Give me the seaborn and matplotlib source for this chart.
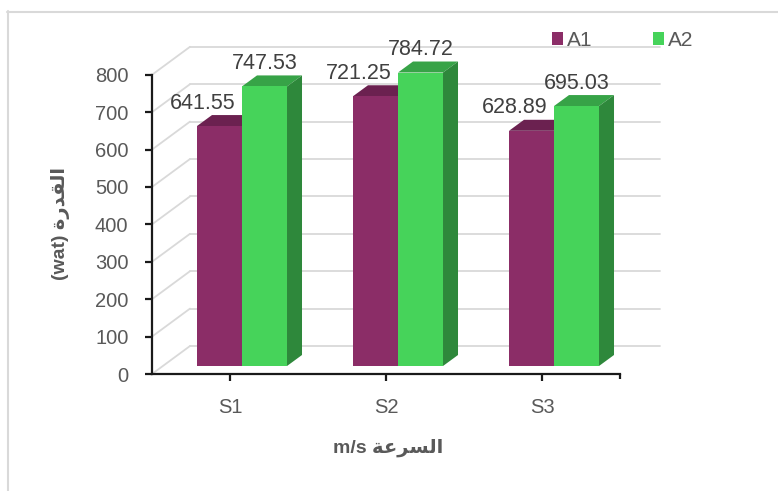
import matplotlib
matplotlib.use("Agg")
import matplotlib.pyplot as plt
from matplotlib.patches import Polygon, Patch
from matplotlib.lines import Line2D
import matplotlib.transforms as mtransforms
import numpy as np
import pandas as pd
import seaborn as sns

# ---- data -------------------------------------------------------------
speeds = ["S1", "S2", "S3"]
series = ["A1", "A2"]
a1_values = [641.55, 721.25, 628.89]
a2_values = [747.53, 784.72, 695.03]
y_ticks = [0, 100, 200, 300, 400, 500, 600, 700, 800]

# Arabic labels written in visual (shaped, left-to-right) order
y_title = "(wat) \uFE93\uFEAD\uFEAA\uFED8\uFEDF\uFE8D"     # القدرة (wat)
x_title = "m/s \uFE94\uFECB\uFEAE\uFEB4\uFEDF\uFE8D"       # السرعة m/s

# ---- style ------------------------------------------------------------
sns.set_theme(style="white")
plt.rcParams["font.family"] = ["Liberation Sans", "DejaVu Sans"]

W, H, DPI = 778, 491, 100
fig = plt.figure(figsize=(W / DPI, H / DPI), dpi=DPI)
fig.patch.set_facecolor("white")

PURPLE, PURPLE_DARK = "#8B2D67", "#6B2150"
GREEN, GREEN_TOP, GREEN_SIDE = "#46D35A", "#37A347", "#2E883B"
GRID = "#d9d9d9"
TXT = "#595959"


def px_axes(left, top_zero, width, height):
    """Axes placed in pixel units: left edge, y of the zero line from top."""
    return fig.add_axes([left / W, (H - top_zero) / H, width / W, height / H])


# front frame (axis lines, ticks, labels)
FRONT_L, FRONT_ZERO, FRONT_W, FRONT_H = 152, 374, 468, 299.2
ax = px_axes(FRONT_L, FRONT_ZERO, FRONT_W, FRONT_H)
# bars sit slightly behind the front frame
axb = px_axes(FRONT_L + 12, FRONT_ZERO - 8, FRONT_W, FRONT_H)
for a in (ax, axb):
    a.set_xlim(-0.5, 2.5)
    a.set_ylim(0, 800)
    a.patch.set_alpha(0)

# ---- back wall grid and floor diagonals --------------------------------
WALL_DX, WALL_DY = 38, 28
wall = mtransforms.ScaledTranslation(WALL_DX / DPI, WALL_DY / DPI, fig.dpi_scale_trans)
x_wall_end = -0.5 + (660 - WALL_DX - FRONT_L) / (FRONT_W / 3)
for v in y_ticks:
    ax.plot([-0.5, x_wall_end], [v, v], color=GRID, lw=1.3,
            transform=ax.transData + wall, clip_on=False, zorder=0)
    p0 = ax.transData.transform((-0.5, v))
    p1 = (ax.transData + wall).transform((-0.5, v))
    f0 = fig.transFigure.inverted().transform(p0)
    f1 = fig.transFigure.inverted().transform(p1)
    fig.add_artist(Line2D([f0[0], f1[0]], [f0[1], f1[1]], color=GRID, lw=1.3, zorder=0))

# ---- bars ---------------------------------------------------------------
df = pd.DataFrame({
    "speed": speeds * 2,
    "power": a1_values + a2_values,
    "series": [series[0]] * 3 + [series[1]] * 3,
})
sns.barplot(data=df, x="speed", y="power", hue="series", hue_order=series,
            palette=[PURPLE, GREEN], saturation=1, width=0.577, ax=axb,
            legend=False, errorbar=None, zorder=3, linewidth=0)
axb.set_xlim(-0.5, 2.5)
axb.set_ylim(0, 800)
axb.axis("off")

# pixel -> data conversion for the bar depth
q0 = axb.transData.transform((0, 0))
q1 = axb.transData.transform((1, 100))
DX = 15 / (q1[0] - q0[0])
DY = 11 * 100 / (q1[1] - q0[1])

face_colors = [(PURPLE_DARK, PURPLE_DARK), (GREEN_TOP, GREEN_SIDE)]
label_shift = [-17, 0]
for k, cont in enumerate(axb.containers):
    top_c, side_c = face_colors[k]
    for bar in cont.patches:
        x, w, h = bar.get_x(), bar.get_width(), bar.get_height()
        top = Polygon([(x, h), (x + w, h), (x + w + DX, h + DY), (x + DX, h + DY)],
                      closed=True, facecolor=top_c, edgecolor="none", zorder=2,
                      clip_on=False)
        side = Polygon([(x + w, 0), (x + w + DX, DY), (x + w + DX, h + DY), (x + w, h)],
                       closed=True, facecolor=side_c, edgecolor="none", zorder=2,
                       clip_on=False)
        axb.add_patch(top)
        axb.add_patch(side)
        bar.set_clip_on(False)
        axb.annotate(f"{h:.2f}", xy=(x + w / 2, h), xytext=(label_shift[k], 23),
                     textcoords="offset pixels", ha="center", va="center",
                     fontsize=15.5, color="#404040", annotation_clip=False)

# ---- front axis frame ------------------------------------------------
ax.set_xticks(range(len(speeds)))
ax.set_xticklabels(speeds)
ax.set_yticks(y_ticks)
for s in ("top", "right"):
    ax.spines[s].set_visible(False)
for s in ("left", "bottom"):
    ax.spines[s].set_color("#1a1a1a")
    ax.spines[s].set_linewidth(1.6)
ax.tick_params(axis="both", which="both", direction="out", length=5, width=1.6,
               color="#1a1a1a", labelcolor=TXT, labelsize=14.5)
ax.tick_params(axis="y", pad=12, left=True)
ax.tick_params(axis="x", pad=12, bottom=True)
ax.set_xlabel("")
ax.set_ylabel("")
ax.grid(False)

# closing tick at the right end of the category axis
ax.plot([2.5, 2.5], [0, -5 * 800 / FRONT_H], color="#1a1a1a", lw=1.6,
        clip_on=False, solid_capstyle="butt")

# ---- titles ------------------------------------------------------------
fig.text(60 / W, 1 - 224 / H, y_title, rotation=90, ha="center", va="center",
         fontsize=14, fontweight="bold", color=TXT)
fig.text(388 / W, 1 - 448 / H, x_title, ha="center", va="center",
         fontsize=14, fontweight="bold", color=TXT)

# ---- legend --------------------------------------------------------------
handles = [Patch(facecolor=PURPLE, edgecolor="none"), Patch(facecolor=GREEN, edgecolor="none")]
fig.legend(handles, series, loc="center left", bbox_to_anchor=(552 / W, 1 - 40.5 / H),
           ncol=2, frameon=False, fontsize=15, labelcolor=TXT,
           handlelength=0.53, handleheight=0.53, handletextpad=0.18,
           columnspacing=2.9, borderpad=0, borderaxespad=0)

# ---- chart border --------------------------------------------------------
fig.add_artist(Line2D([7.5 / W, 7.5 / W], [0, 1 - 11 / H], color=GRID, lw=1.5))
fig.add_artist(Line2D([7 / W, 1], [1 - 11.5 / H, 1 - 11.5 / H], color=GRID, lw=1.5))

fig.savefig("out.png", dpi=DPI, facecolor="white")
